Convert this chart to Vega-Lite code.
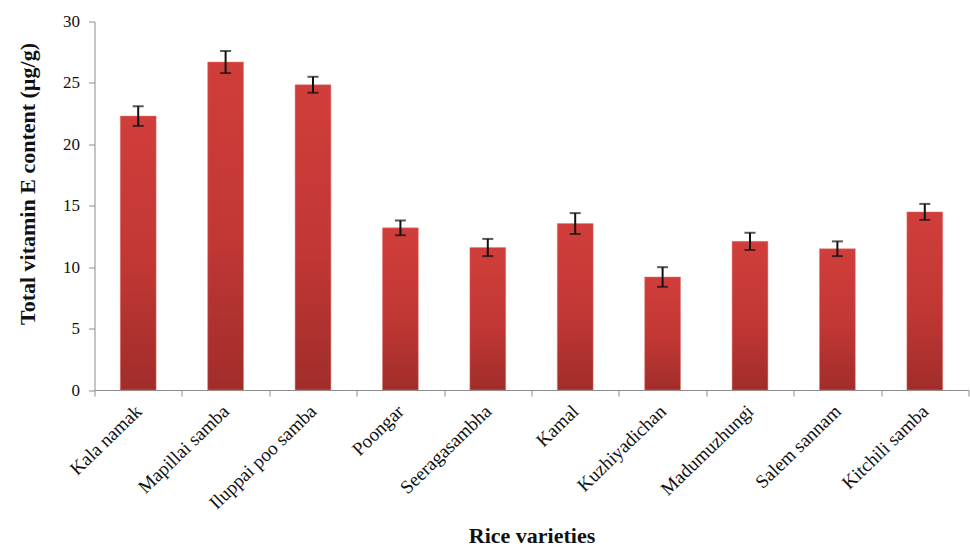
{
  "$schema": "https://vega.github.io/schema/vega-lite/v6.json",
  "autosize": "none",
  "padding": {"left": 94.5, "top": 21.5, "right": 1, "bottom": 158},
  "width": 874,
  "height": 368.5,
  "background": "white",
  "config": {
    "view": {"stroke": null},
    "font": "Liberation Serif",
    "axis": {"grid": false, "domainColor": "#8c8c8c", "tickColor": "#8c8c8c", "labelColor": "#111111", "titleColor": "#111111"}
  },
  "data": {
    "values": [
      {"variety": "Kala namak", "vitE": 22.3, "sd": 0.8},
      {"variety": "Mapillai samba", "vitE": 26.7, "sd": 0.9},
      {"variety": "Iluppai poo samba", "vitE": 24.85, "sd": 0.65},
      {"variety": "Poongar", "vitE": 13.2, "sd": 0.6},
      {"variety": "Seeragasambha", "vitE": 11.6, "sd": 0.7},
      {"variety": "Kamal", "vitE": 13.55, "sd": 0.85},
      {"variety": "Kuzhiyadichan", "vitE": 9.2, "sd": 0.8},
      {"variety": "Madumuzhungi", "vitE": 12.1, "sd": 0.7},
      {"variety": "Salem sannam", "vitE": 11.5, "sd": 0.6},
      {"variety": "Kitchili samba", "vitE": 14.5, "sd": 0.65}
    ]
  },
  "encoding": {
    "x": {
      "field": "variety",
      "type": "nominal",
      "sort": null,
      "scale": {"paddingInner": 0, "paddingOuter": 0},
      "axis": {
        "title": "Rice varieties",
        "titleFontSize": 22,
        "titleFontWeight": "bold",
        "titleBaseline": "middle",
        "titleY": 145,
        "tickBand": "extent",
        "tickSize": 6,
        "labelAngle": -44,
        "labelAlign": "right",
        "labelBaseline": "middle",
        "labelFontSize": 19,
        "labelPadding": 12
      }
    }
  },
  "layer": [
    {
      "mark": {
        "type": "bar",
        "width": {"band": 0.41},
        "stroke": "#e27a76",
        "strokeWidth": 0.8,
        "strokeOpacity": 0.6,
        "color": {
          "gradient": "linear",
          "x1": 0, "y1": 0, "x2": 0, "y2": 1,
          "stops": [
            {"offset": 0, "color": "#d03e3b"},
            {"offset": 0.55, "color": "#c13734"},
            {"offset": 1, "color": "#a02d2a"}
          ]
        }
      },
      "encoding": {
        "y": {
          "field": "vitE",
          "type": "quantitative",
          "title": "Total vitamin E content  (µg/g)",
          "scale": {"domain": [0, 30]},
          "axis": {
            "titleFontSize": 22,
            "titleFontWeight": "bold",
            "titleAngle": -90,
            "titleAlign": "center",
            "titleBaseline": "middle",
            "titleX": -67,
            "titleY": 162,
            "values": [0, 5, 10, 15, 20, 25, 30],
            "tickSize": 6,
            "labelFontSize": 17,
            "labelPadding": 9
          }
        }
      }
    },
    {
      "mark": {
        "type": "errorbar",
        "ticks": {"size": 11, "thickness": 2, "color": "#111111"},
        "rule": {"strokeWidth": 2, "color": "#111111"}
      },
      "encoding": {
        "y": {"field": "vitE", "type": "quantitative", "title": "Total vitamin E content  (µg/g)"},
        "yError": {"field": "sd"}
      }
    }
  ]
}
